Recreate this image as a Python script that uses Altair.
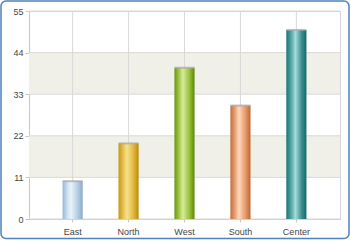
import altair as alt
import pandas as pd

# ---- data ----
regions = ["East", "North", "West", "South", "Center"]
values = [10, 20, 40, 30, 50]
y_ticks = [0, 11, 22, 33, 44, 55]
band_lo = [11, 33]
band_hi = [22, 44]

# ---- styles ----
gradients = {
    "East":   [("#97b6d3", 0), ("#cfe2f2", 0.25), ("#e8f3fc", 0.42), ("#b4cde3", 0.75), ("#8aa9c7", 1)],
    "North":  [("#c5960f", 0), ("#e9c552", 0.25), ("#f8e08e", 0.42), ("#e0b73c", 0.75), ("#bb8a08", 1)],
    "West":   [("#67960f", 0), ("#a9cc4c", 0.25), ("#d6ec9c", 0.42), ("#98bf3a", 0.75), ("#5b8808", 1)],
    "South":  [("#c56e3a", 0), ("#eba57a", 0.25), ("#ffd8bc", 0.42), ("#e6996a", 0.75), ("#bd6630", 1)],
    "Center": [("#187674", 0), ("#58a8a6", 0.25), ("#a8dcdc", 0.45), ("#3f9190", 0.75), ("#126a6a", 1)],
}
font = "Liberation Sans"
grid_col = "#d9d9d9"

df = pd.DataFrame({"region": regions, "value": values})
bands = pd.DataFrame({"lo": band_lo, "hi": band_hi})
ticks = pd.DataFrame({"t": y_ticks})

x_scale = alt.Scale(domain=regions, paddingInner=0.64, paddingOuter=0.6)
y_scale = alt.Scale(domain=[0, 55], nice=False)

x_enc = alt.X("region:N", scale=x_scale, sort=regions,
              axis=alt.Axis(title=None, labelAngle=0, grid=False, tickSize=3,
                            tickColor="#c8c8c8", domainColor="#c8c8c8",
                            labelColor="#444", labelFont=font, labelFontSize=9,
                            labelPadding=5, bandPosition=0.5))
y_axis = alt.Axis(title=None, grid=False, values=y_ticks, tickSize=4,
                  tickColor="#c8c8c8", domainColor="#c8c8c8",
                  labelColor="#444", labelFont=font, labelFontSize=9, labelPadding=2)

band_layer = alt.Chart(bands).mark_rect(fill="#f0f0e9").encode(
    y=alt.Y("lo:Q", scale=y_scale, axis=y_axis), y2="hi:Q")

hrules = alt.Chart(ticks).mark_rule(color=grid_col, strokeWidth=1).encode(
    y=alt.Y("t:Q", scale=y_scale))

vrules = alt.Chart(df).mark_rule(color=grid_col, strokeWidth=1).encode(x=x_enc)

layers = [band_layer, hrules, vrules]
for r in regions:
    stops = [alt.GradientStop(color=c, offset=o) for c, o in gradients[r]]
    grad = alt.LinearGradient(gradient="linear", stops=stops, x1=0, x2=1, y1=0, y2=0)
    bar = alt.Chart(df).transform_filter(alt.datum.region == r).mark_bar(
        color=grad).encode(x=x_enc, y=alt.Y("value:Q", scale=y_scale))
    layers.append(bar)

caps = alt.Chart(df).mark_tick(color="#a5a5a5", thickness=2, size=20).encode(
    x=x_enc, y=alt.Y("value:Q", scale=y_scale))
layers.append(caps)

border = alt.Chart(pd.DataFrame({"k": [0]})).mark_rect(
    fill="transparent", stroke="#4f81bd", strokeWidth=1.5, cornerRadius=5).encode(
    x=alt.value(-28), x2=alt.value(320), y=alt.value(-10), y2=alt.value(227.5))
layers.append(border)

chart = alt.layer(*layers).properties(
    width=311, height=208,
    autosize=alt.AutoSizeParams(type="none"),
    padding={"left": 29, "top": 11, "right": 11, "bottom": 22},
    background="white",
).configure_view(stroke="#d4d4d4", strokeWidth=1)

chart.save("out.html", embed_options={"renderer": "svg", "actions": False})
